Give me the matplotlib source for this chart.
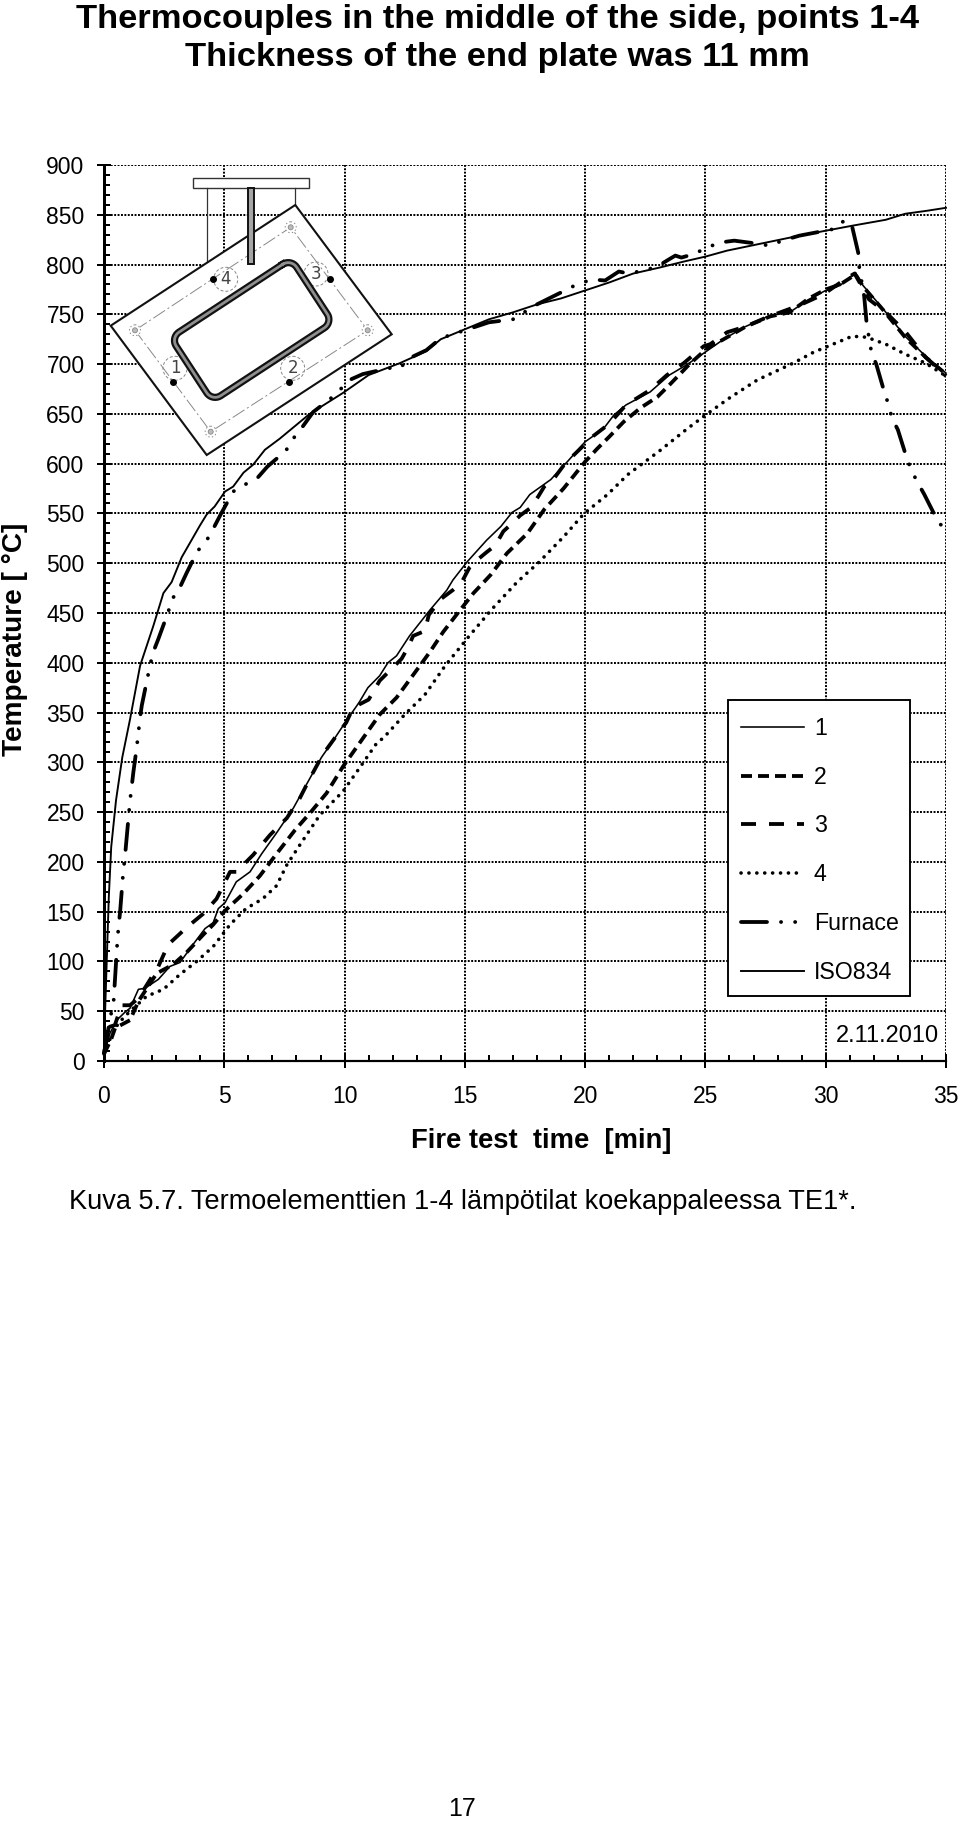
import numpy as np
import matplotlib
matplotlib.use('Agg')
import matplotlib.pyplot as plt
from matplotlib.patches import Polygon, Circle, Rectangle

FIG_W = 960
FIG_H = 1821
PX = 0.72  # one pixel in points at dpi 100

time_1 = [0, .25, .53, .87, 1.08, 1.43, 1.7, 2.26, 2.74, 3.16, 3.7, 4.2, 4.54, 4.75, 5.03, 5.5, 6.07, 6.55, 7.17, 7.87,
          8.56, 9.04, 9.53, 10.08, 10.6, 10.97, 11.46, 11.8, 12.16, 12.7, 13.55, 14.25, 14.5, 15.08, 15.9, 16.5, 16.96,
          17.3, 17.7, 18.57, 19.26, 20, 20.76, 21.2, 21.7, 22.7, 23.5, 24.2, 24.93, 25.76, 26.6, 27.7, 28.5, 29.3, 30,
          30.6, 31.24, 31.55, 32.4, 33.3, 34.15, 35]
temp_1 = [7, 28, 41, 49, 53, 72, 73, 82, 95, 99, 117, 133, 139, 153, 159, 180, 190, 208, 229, 254,
          284, 305, 322, 342, 360, 375, 387, 400, 407, 427, 453, 473, 483, 501, 523, 537, 551,
          556, 569, 584, 602, 622, 635, 649, 659, 672, 689, 699, 711, 725, 737, 749, 752, 765, 774,
          779, 792, 779, 755, 728, 708, 691]

time_2 = [0, .3, .46, 1.08, 1.43, 2.19, 2.88, 3.43, 4.13, 4.54, 5.03, 5.79, 6.48, 7.17, 7.94, 8.56, 9.25, 9.94, 10.7,
          11.46, 12.16, 13.13, 13.55, 14.1, 14.74, 15.36, 16.06, 16.75, 17.6, 18.3, 19.1, 20, 20.5, 21, 21.6, 22.3, 23,
          23.5, 23.9, 24.3, 25.07, 25.76, 26.7, 27.7, 28.5, 29.3, 30, 30.6, 31.24, 31.55, 32.4, 33.3, 34.15, 35]
temp_2 = [7, 22, 33, 41, 60, 88, 97, 109, 127, 137, 151, 168, 186, 208, 232, 249, 269, 296, 322,
          348, 365, 397, 411, 431, 451, 470, 488, 510, 530, 554, 575, 602, 615, 627, 642, 656, 667,
          679, 689, 699, 716, 725, 738, 748, 752, 766, 775, 780, 790, 778, 754, 727, 707, 690]

time_3 = [0, .18, .45, .73, 1.08, 1.43, 2.26, 2.67, 3.43, 4.13, 4.68, 5.24, 5.5, 6.2, 6.9, 7.6, 8.14, 8.56, 9.1, 9.67,
          10.07, 10.3, 10.6, 11, 11.46, 12, 12.37, 12.65, 12.85, 13.34, 13.5, 14, 14.5, 14.87, 15.2, 15.5, 15.9, 16.27,
          16.6, 16.96, 17.3, 17.7, 18.05, 18.3, 18.7, 19.1, 19.5, 20.35, 21, 21.7, 22.7, 23.4, 24.1, 24.93, 25.2, 25.9,
          26.7, 27.55, 28.9, 29.9, 30.85, 31.2, 31.8, 32.5, 33.33, 34.15, 35]
temp_3 = [7, 34, 36, 56, 56, 63, 95, 117, 134, 148, 163, 190, 190, 207, 227, 244, 264, 284, 308, 327,
          340, 352, 358, 363, 382, 395, 404, 416, 427, 432, 448, 464, 473, 481, 496, 503, 511, 518,
          532, 540, 548, 555, 567, 577, 585, 598, 608, 628, 640, 659, 674, 689, 701, 718, 720, 732,
          738, 747, 759, 770, 786, 791, 765, 752, 732, 707, 688]

time_4 = [0, .3, .6, 1.08, 1.77, 2.47, 3.16, 3.85, 4.54, 5.24, 5.9, 6.6, 7.17, 7.6, 8.14, 8.97, 9.94, 10.64, 11.3, 11.67,
          12.5, 13.34, 14.18, 15.15, 16.13, 17.17, 18.08, 19.12, 19.96, 20.93, 21.77, 23.1, 24.24, 25.07, 26, 27.15,
          28.65, 29.5, 30.3, 31.1, 31.7, 32.5, 33.3, 34.15, 35]
temp_4 = [7, 25, 38, 50, 65, 72, 87, 100, 115, 137, 153, 163, 176, 197, 217, 247, 271, 295, 318, 326,
          348, 368, 397, 426, 454, 481, 501, 527, 550, 569, 589, 613, 635, 650, 666, 684,
          701, 712, 720, 728, 727, 720, 710, 701, 688]

time_furnace = [0, .1, .2, .3, .4, .55, .6, .67, .8, .87, 1.08, 1.22, 1.36, 1.5, 1.57, 1.8, 1.91, 2.05, 2.26, 2.67, 2.81,
                3.16, 3.43, 3.88, 4.27, 4.57, 4.85, 5.37, 5.86, 6.39, 6.79, 7.56, 7.86, 8.25, 8.7, 9.4, 9.8, 10.2, 10.76,
                11.86, 12.3, 12.7, 13.4, 14, 15, 16, 17, 18, 19, 19.65, 20.28, 20.83, 21.4, 21.8, 22.43, 23, 23.47,
                23.75, 24, 24.44, 25, 25.55, 26.2, 27.15, 27.66, 28.2, 28.9, 29.55, 30.4, 30.8, 31.1, 31.35, 31.4, 31.6,
                31.7, 31.9, 32.1, 32.4, 32.6, 32.75, 33, 33.35, 33.55, 33.8, 34.1, 34.6, 34.95]
temp_furnace = [8, 20, 35, 48, 60, 118, 134, 150, 190, 205, 261, 290, 315, 345, 357, 384, 397, 411, 424, 451, 463,
                476, 490, 512, 523, 536, 549, 572, 579, 586, 597, 613, 625, 637, 652, 665, 674, 684, 690,
                696, 696, 706, 714, 726, 734, 742, 745, 760, 772, 780, 785, 784, 793, 791, 794, 798, 805,
                809, 807, 810, 816, 822, 824, 821, 819, 824, 829, 832, 836, 845, 838, 812, 796, 768,
                741, 712, 700, 675, 660, 646, 634, 607, 594, 582, 569, 545, 533]

time_iso = [0, .1, .2, .3, .5, .76, 1.08, 1.5, 2.05, 2.47, 2.81, 3.23, 3.99, 4.27, 4.6, 5.03, 5.37, 5.8, 6.2, 6.69, 7.3,
            8.55, 9.93, 11, 12.3, 13.4, 14, 15, 16, 17, 18, 19, 20, 21, 22, 23.1, 24.1, 25, 25.9, 27.3, 28.9, 30, 31.1,
            32.5, 33.3, 34.2, 35]
temp_iso = [15, 90, 165, 215, 262, 305, 343, 397, 437, 470, 481, 506, 538, 549, 557, 572, 577, 591, 599, 614, 625,
            650, 671, 689, 701, 713, 725, 735, 745, 752, 760, 766, 774, 782, 791, 797, 803, 808, 814, 821, 829, 834, 839,
            845, 851, 854, 857]

x_ticks = [0, 5, 10, 15, 20, 25, 30, 35]
y_ticks = list(range(0, 901, 50))
series_labels = ['1', '2', '3', '4', 'Furnace', 'ISO834']


def dash(*pixels):
    return (0, tuple(p * PX for p in pixels))


def rounded_rect(cx, cy, half_l, half_w, rad, angle):
    # closed outline of a rotated rectangle with round corners
    pts = []
    corners = [(half_l - rad, -half_w + rad, -90), (half_l - rad, half_w - rad, 0),
               (-half_l + rad, half_w - rad, 90), (-half_l + rad, -half_w + rad, 180)]
    for ux, uy, start in corners:
        for a in np.radians(np.linspace(start, start + 90, 10)):
            pts.append((ux + rad * np.cos(a), uy + rad * np.sin(a)))
    pts.append(pts[0])
    pts = np.array(pts)
    c, s = np.cos(angle), np.sin(angle)
    return cx + pts[:, 0] * c - pts[:, 1] * s, cy + pts[:, 0] * s + pts[:, 1] * c


def draw_diagram(ov):
    ov.add_patch(Rectangle((193.3, 177.7), 116, 10.6, fc='white', ec='#333333', lw=1.0, zorder=3))
    ov.plot([206.7, 206.7], [188.3, 262], color='#333333', lw=0.9, zorder=3)
    ov.plot([295.3, 295.3], [188.3, 205], color='#333333', lw=0.9, zorder=3)

    plate = [(110.7, 325.7), (295.3, 205), (391.7, 334.3), (206.7, 455)]
    ov.add_patch(Polygon(plate, closed=True, fc='white', ec='#111111', lw=1.5, zorder=4))

    bolts = [(135, 330.3), (290.7, 227.3), (367.7, 330.3), (210.7, 431.7)]
    ring = bolts + [bolts[0]]
    ov.plot([p[0] for p in ring], [p[1] for p in ring], color='#888888', lw=0.7, ls=dash(14, 3, 2, 3), zorder=5)
    for bx, by in bolts:
        ov.add_patch(Circle((bx, by), 5.5, fc='white', ec='#888888', lw=0.7, ls=':', zorder=5))
        ov.add_patch(Circle((bx, by), 2.5, fc='#bbbbbb', ec='#888888', lw=0.6, zorder=5))

    tx, ty = rounded_rect(251.7, 330, 72, 38, 10, np.radians(-33.2))
    ov.plot(tx, ty, color='#111111', lw=5.2, solid_joinstyle='round', zorder=6)
    ov.plot(tx, ty, color='#8f8f8f', lw=2.0, solid_joinstyle='round', zorder=7)
    ov.add_patch(Rectangle((248.2, 187.7), 6.2, 76, fc='#a5a5a5', ec='#111111', lw=1.4, zorder=8))

    marks = [('1', 175, 368.3, 172.7, 381.7), ('2', 292.7, 368.3, 289.3, 381.7),
             ('3', 316, 274, 330, 278.7), ('4', 225.7, 279.3, 213, 278.7)]
    for name, lx, ly, dx, dy in marks:
        ov.add_patch(Circle((lx, ly), 12, fc='none', ec='#888888', lw=0.7, ls=dash(3, 2), zorder=5))
        ov.text(lx, ly, name, ha='center', va='center', fontsize=12, color='#444444',
                family='DejaVu Sans', zorder=9)
        ov.plot([dx], [dy], 'o', color='black', ms=4, zorder=9)


def main():
    plt.rcParams['font.family'] = ['Liberation Sans', 'DejaVu Sans']
    plt.rcParams['lines.scale_dashes'] = False
    fig = plt.figure(figsize=(FIG_W / 100, FIG_H / 100), dpi=100)
    ax = fig.add_axes([104 / FIG_W, 1 - 1061 / FIG_H, 842 / FIG_W, 896 / FIG_H])

    ax.plot(time_1, temp_1, color='black', lw=1.6 * PX, label=series_labels[0], clip_on=False, zorder=3)
    ax.plot(time_2, temp_2, color='black', lw=3.8 * PX, ls=dash(11, 6), label=series_labels[1], clip_on=False, zorder=3)
    ax.plot(time_3, temp_3, color='black', lw=3.8 * PX, ls=dash(15, 13), label=series_labels[2], clip_on=False, zorder=3)
    ax.plot(time_4, temp_4, color='black', lw=3.6 * PX, ls=dash(.1, 7.8), dash_capstyle='round',
            label=series_labels[3], clip_on=False, zorder=3)
    ax.plot(time_furnace, temp_furnace, color='black', lw=3.8 * PX, ls=dash(26, 14, .1, 14, .1, 14),
            dash_capstyle='round', label=series_labels[4], clip_on=False, zorder=3)
    ax.plot(time_iso, temp_iso, color='black', lw=1.9 * PX, label=series_labels[5], clip_on=False, zorder=3)

    ax.set_xlim(0, 35)
    ax.set_ylim(0, 900)
    ax.set_xticks(x_ticks)
    ax.set_yticks(y_ticks)
    ax.set_xticks(np.arange(0, 36), minor=True)
    ax.set_yticks(np.arange(0, 901, 10), minor=True)
    ax.grid(True, which='major', color='black', lw=2.0 * PX, ls=dash(1.9, 1.5), zorder=1)
    ax.set_axisbelow(True)
    for name in ['top', 'right']:
        ax.spines[name].set_visible(False)
    ax.spines['left'].set_linewidth(3 * PX)
    ax.spines['bottom'].set_linewidth(2.2 * PX)
    ax.tick_params(which='major', direction='inout', length=14 * PX, width=2 * PX, labelsize=16.5)
    ax.tick_params(which='minor', direction='in', length=6 * PX, width=2 * PX)
    ax.tick_params(axis='x', which='major', pad=12)
    ax.tick_params(axis='y', which='major', pad=9)

    # box drawn apart from the legend so its rows can sit a little lower inside it
    ax.add_patch(Rectangle((727.5 / FIG_W, 1 - 996 / FIG_H), 182.5 / FIG_W, 296 / FIG_H, transform=fig.transFigure,
                           fc='white', ec='black', lw=1.9 * PX, clip_on=False, zorder=4))
    ax.legend(loc='upper left', bbox_to_anchor=(727.5 / FIG_W, 1 - 703 / FIG_H), bbox_transform=fig.transFigure,
              borderaxespad=0, fontsize=16.7, frameon=False,
              handlelength=2.7, handletextpad=0.42, labelspacing=1.11, borderpad=0.6)

    ov = fig.add_axes([0, 0, 1, 1], zorder=5)
    ov.set_xlim(0, FIG_W)
    ov.set_ylim(FIG_H, 0)
    ov.axis('off')
    draw_diagram(ov)

    ov.text(497, 19.5, 'Thermocouples in the middle of the side, points 1-4', ha='center', va='center',
            fontsize=24.8, fontweight='bold')
    ov.text(497, 57.5, 'Thickness of the end plate was 11 mm', ha='center', va='center',
            fontsize=24.8, fontweight='bold')
    ov.text(15.5, 639, 'Temperature [ °C]', rotation=90, ha='center', va='center', fontsize=20.2, fontweight='bold')
    ov.text(541, 1141, 'Fire test  time  [min]', ha='center', va='center', fontsize=19.7, fontweight='bold')
    ov.text(939, 1036, '2.11.2010', ha='right', va='center', fontsize=17)
    ov.text(69, 1202, 'Kuva 5.7. Termoelementtien 1-4 lämpötilat koekappaleessa TE1*.', ha='left', va='center',
            fontsize=19.5)
    ov.text(462, 1809, '17', ha='center', va='center', fontsize=18)

    fig.savefig('out.png', dpi=100, facecolor='white')


if __name__ == "__main__":
    main()
